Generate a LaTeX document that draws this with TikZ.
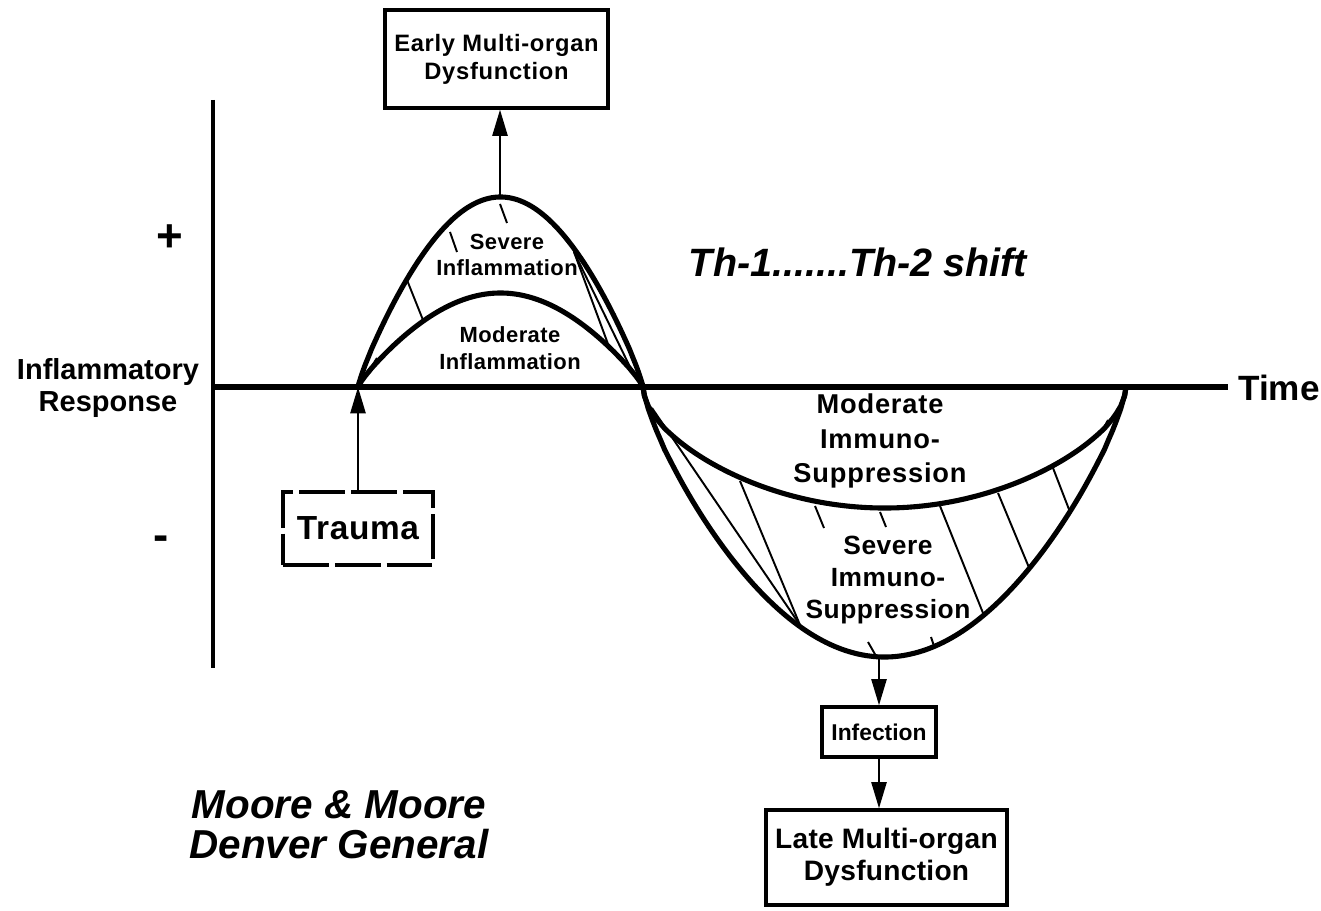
\documentclass[tikz,border=0pt]{standalone}
\usepackage{fontspec}
\setmainfont{Liberation Sans}
\usetikzlibrary{arrows.meta}

\begin{document}
\begin{tikzpicture}[x = 0.02cm, y = -0.02cm,
        curve/.style = {line width = 2.9pt, line join = round},
        hatch/.style = {line width = 1.1pt},
        box/.style = {draw, line width = 1.8pt, inner sep = 0pt, align = center},
        link/.style = {line width = 1.6pt, -{Triangle[length = 15pt, width = 8.5pt]}},
        lbl/.style = {align = center}]
        \useasboundingbox (0, 0) rectangle (1321, 911);

        % axes
        \draw [line width = 2.8pt] (213, 100) -- (213, 668);
        \draw [line width = 3.7pt] (213, 387) -- (1228, 387);
        \node [lbl, anchor = west, font = \bfseries\fontsize{20}{22}\selectfont] (time) at (1232, 388) {Time};
        \node [lbl, font = \bfseries\fontsize{16.5}{18.7}\selectfont] (resp) at (108, 388) {Inflammatory\\Response};
        \node [lbl, font = \bfseries\fontsize{26}{26}\selectfont] (plus) at (170, 238) {+};
        \node [lbl, font = \bfseries\fontsize{26}{26}\selectfont] (minus) at (161, 543) {-};

        \coordinate (start) at (358, 387);
        \coordinate (cross) at (643, 387);
        \coordinate (stop) at (1126, 387);

        % response curves
        \draw [curve] (start) -- plot [domain = 0.5:179.5, samples = 90]
            ({358 + \x/180*285}, {387 - 190*exp(0.85*ln(sin(\x)))}) -- (cross);
        \draw [curve] (start) -- plot [domain = 0.5:179.5, samples = 90]
            ({358 + \x/180*285}, {387 - 94*exp(0.85*ln(sin(\x)))}) -- (cross);
        \draw [curve] (cross) -- plot [domain = 0.5:179.5, samples = 120]
            ({643 + \x/180*483}, {387 + 270*exp(0.75*ln(sin(\x)))}) -- (stop);
        \draw [curve] (cross) -- plot [domain = 0.5:179.5, samples = 120]
            ({643 + \x/180*483}, {387 + 121*exp(0.55*ln(sin(\x)))}) -- (stop);

        % hatching
        \foreach \xa/\ya/\xb/\yb in {368/372/377/358, 407/280/423/320, 450/232/457/252, 500/204/507/223,
                574/252/608/344, 574/252/631/369, 652/408/800/625, 740/481/800/625, 815/506/824/528,
                880/512/886/527, 940/506/983/613, 998/493/1030/570, 1053/468/1070/512, 1101/433/1108/420,
                868/642/876/656, 931/637/934/646}
        \draw [hatch] (\xa, \ya) -- (\xb, \yb);

        \coordinate (peak) at (500, 198);
        \coordinate (trough) at (879, 657);

        % labels
        \node [lbl, font = \bfseries\fontsize{12.5}{14.7}\selectfont\addfontfeature{LetterSpace = 2}] (sevinfl) at (507, 255) {Severe\\Inflammation};
        \node [lbl, font = \bfseries\fontsize{12.5}{15.3}\selectfont\addfontfeature{LetterSpace = 2}] (modinfl) at (510, 348) {Moderate\\Inflammation};
        \node [lbl, font = \bfseries\fontsize{15.5}{19.6}\selectfont\addfontfeature{LetterSpace = 3}] (modimm) at (880, 441) {Moderate\\Immuno-\\Suppression};
        \node [lbl, font = \bfseries\fontsize{15}{18.4}\selectfont\addfontfeature{LetterSpace = 2}] (sevimm) at (888, 580) {Severe\\Immuno-\\Suppression};
        \node [lbl, font = \bfseries\itshape\fontsize{22.5}{24}\selectfont] (shift) at (858, 262) {Th-1.......Th-2 shift};
        \node [lbl, font = \bfseries\itshape\fontsize{23}{22.7}\selectfont] (moore) at (339, 825) {Moore \& Moore\\Denver General};

        % boxes
        \node [box, minimum width = 4.46cm, minimum height = 1.96cm,
            font = \bfseries\fontsize{13.5}{15.9}\selectfont\addfontfeature{LetterSpace = 3}] (early) at (496.5, 59) {Early Multi-organ\\Dysfunction};
        \node [box, line width = 2.3pt, dash pattern = on 26pt off 3.5pt, minimum width = 3cm, minimum height = 1.46cm,
            font = \bfseries\fontsize{19}{20}\selectfont\addfontfeature{LetterSpace = 2}] (trauma) at (358, 528.5) {Trauma};
        \node [box, minimum width = 2.28cm, minimum height = 1cm,
            font = \bfseries\fontsize{13}{15}\selectfont] (infect) at (879, 732) {Infection};
        \node [box, minimum width = 4.82cm, minimum height = 1.9cm,
            font = \bfseries\fontsize{16}{18}\selectfont\addfontfeature{LetterSpace = 1}] (late) at (886.5, 857.5) {Late Multi-organ\\Dysfunction};

        \draw [link] (trauma.north) -- (start);
        \draw [link] (peak) -- (peak |- early.south);
        \draw [link] (trough) -- (trough |- infect.north);
        \draw [link] (infect.south) -- (infect.south |- late.north);
    \end{tikzpicture}
\end{document}
